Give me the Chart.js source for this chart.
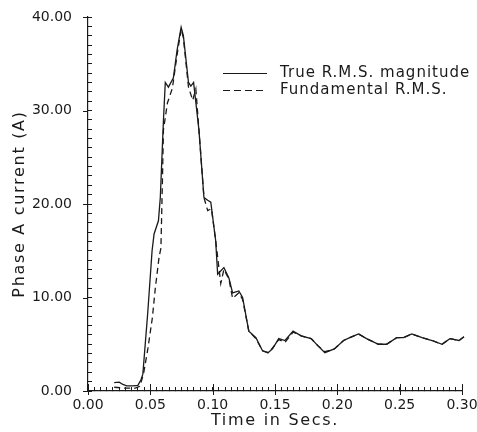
<!DOCTYPE html>
<html>
<head>
<meta charset="utf-8">
<script src="https://cdn.jsdelivr.net/npm/chart.js@4.4.1/dist/chart.umd.min.js"></script>
<style>
  html, body { margin: 0; padding: 0; background: #ffffff; }
  #wrap { width: 477px; height: 432px; position: relative; }
</style>
</head>
<body>
<div id="wrap"><canvas id="c" width="477" height="432"></canvas></div>
<script>
// ---- data ----
const timeTrue = [0.021, 0.025, 0.028, 0.031, 0.036, 0.040, 0.0425, 0.044, 0.048, 0.0514, 0.053, 0.0565, 0.058, 0.0605, 0.062, 0.0645, 0.0685, 0.0715, 0.0747, 0.0765, 0.0806, 0.0825, 0.0847, 0.089, 0.093, 0.096, 0.0985, 0.1024, 0.104, 0.109, 0.113, 0.116, 0.121, 0.124, 0.129, 0.1347, 0.140, 0.1444, 0.148, 0.153, 0.158, 0.1645, 0.171, 0.179, 0.1847, 0.190, 0.1976, 0.205, 0.210, 0.217, 0.2234, 0.233, 0.2395, 0.2476, 0.253, 0.2597, 0.268, 0.276, 0.284, 0.2903, 0.2976, 0.3016, 0.3056];
const trueRms  = [0.9, 0.95, 0.7, 0.55, 0.55, 0.6, 1.2, 1.8, 8.5, 15.0, 16.8, 18.2, 20.7, 28.9, 33.0, 32.5, 33.5, 36.5, 38.9, 38.0, 33.0, 32.6, 33.0, 27.9, 20.7, 20.4, 20.2, 16.1, 12.5, 13.2, 12.1, 10.5, 10.7, 10.0, 6.4, 5.7, 4.3, 4.1, 4.5, 5.6, 5.4, 6.4, 5.9, 5.6, 4.8, 4.1, 4.5, 5.4, 5.7, 6.1, 5.6, 5.0, 5.0, 5.7, 5.7, 6.1, 5.7, 5.4, 5.0, 5.6, 5.4, 5.8, 5.7];

const timeFund = [0.021, 0.030, 0.038, 0.0415, 0.0445, 0.048, 0.0516, 0.054, 0.057, 0.0585, 0.0597, 0.0605, 0.0637, 0.0677, 0.0715, 0.0747, 0.0765, 0.0806, 0.084, 0.0865, 0.089, 0.093, 0.096, 0.099, 0.1024, 0.1065, 0.109, 0.113, 0.116, 0.121, 0.124, 0.129, 0.1347, 0.140, 0.1444, 0.148, 0.153, 0.158, 0.1645, 0.171, 0.179, 0.1847, 0.190, 0.1976, 0.205, 0.210, 0.217, 0.2234, 0.233, 0.2395, 0.2476, 0.253, 0.2597, 0.268, 0.276, 0.284, 0.2903, 0.2976, 0.3016, 0.3056];
const fundRms  = [0.4, 0.3, 0.3, 0.5, 1.8, 4.5, 7.8, 11.0, 14.3, 15.3, 22.5, 27.9, 30.8, 32.4, 36.0, 38.7, 37.8, 32.5, 31.1, 32.3, 27.9, 20.7, 19.3, 19.5, 16.1, 11.5, 13.0, 12.0, 9.9, 10.5, 9.8, 6.4, 5.6, 4.3, 4.1, 4.6, 5.5, 5.2, 6.3, 5.9, 5.6, 4.8, 4.2, 4.5, 5.4, 5.7, 6.1, 5.6, 5.0, 5.0, 5.7, 5.7, 6.1, 5.7, 5.4, 5.0, 5.6, 5.4, 5.8, 5.7];

const seriesNames = ['True R.M.S. magnitude', 'Fundamental R.M.S.'];
const xMajorTicks = [0.00, 0.05, 0.10, 0.15, 0.20, 0.25, 0.30];
const yMajorTicks = [0, 10, 20, 30, 40];
const xTitle = 'Time in Secs.';
const yTitle = 'Phase A current (A)';

// ---- build chart ----
const toPoints = (xs, ys) => xs.map((x, i) => ({x: x, y: ys[i]}));
const isMajor = (v, list) => list.some(m => Math.abs(m - v) < 1e-9);
const INK = '#1a1a1a';
const FONT = "'DejaVu Sans', sans-serif";

const spacingPlugin = {
  id: 'spacing',
  beforeDraw(chart) { chart.ctx.letterSpacing = '1.7px'; },
  beforeDatasetsDraw(chart) { chart.ctx.letterSpacing = '0px'; },
  afterDraw(chart) {
    const ctx = chart.ctx;
    const xs = chart.scales.x, ys = chart.scales.y;
    ctx.save();
    ctx.strokeStyle = INK;
    ctx.lineWidth = 1;
    // outward parts of the major ticks
    yMajorTicks.forEach(v => {
      const p = Math.round(ys.getPixelForValue(v)) + 0.5;
      ctx.beginPath(); ctx.moveTo(xs.left - 5, p); ctx.lineTo(xs.left, p); ctx.stroke();
    });
    xMajorTicks.forEach(v => {
      const p = Math.round(xs.getPixelForValue(v)) + 0.5;
      ctx.beginPath(); ctx.moveTo(p, ys.bottom); ctx.lineTo(p, ys.bottom + 4); ctx.stroke();
      ctx.beginPath(); ctx.moveTo(p, ys.bottom); ctx.lineTo(p, ys.bottom - 7); ctx.stroke();
    });
    // legend
    const lx0 = 223, lx1 = 267, tx = 280;
    const rows = [{y: 73, dash: []}, {y: 90, dash: [7, 4]}];
    ctx.font = "15px " + FONT;
    ctx.fillStyle = INK;
    ctx.textBaseline = 'middle';
    ctx.textAlign = 'left';
    ctx.letterSpacing = '1px';
    rows.forEach((r, i) => {
      ctx.setLineDash(r.dash);
      ctx.lineWidth = 1.2;
      ctx.beginPath(); ctx.moveTo(lx0, r.y + 0.5); ctx.lineTo(lx1, r.y + 0.5); ctx.stroke();
      ctx.fillText(seriesNames[i], tx, r.y);
    });
    ctx.restore();
    ctx.letterSpacing = '0px';
  }
};

new Chart(document.getElementById('c'), {
  type: 'line',
  data: {
    datasets: [
      { label: seriesNames[1], data: toPoints(timeFund, fundRms), borderColor: INK, borderWidth: 1.3, borderDash: [6, 4], pointRadius: 0, tension: 0, fill: false, clip: false },
      { label: seriesNames[0], data: toPoints(timeTrue, trueRms), borderColor: INK, borderWidth: 1.3, pointRadius: 0, tension: 0, fill: false, clip: false }
    ]
  },
  options: {
    responsive: false,
    animation: false,
    devicePixelRatio: 1,
    layout: { padding: { left: 0, top: 17, right: 15, bottom: 0 } },
    plugins: { legend: { display: false }, tooltip: { enabled: false }, title: { display: false } },
    scales: {
      x: {
        type: 'linear', min: 0, max: 0.30,
        afterFit: s => { s.height = 41; s.paddingLeft = 0; s.paddingRight = 0; },
        afterBuildTicks: s => { s.ticks = []; for (let i = 0; i <= 60; i++) s.ticks.push({value: i * 0.005}); },
        grid: { drawOnChartArea: false, drawTicks: true, tickLength: -4, color: INK, tickColor: INK, lineWidth: 1 },
        border: { display: true, color: INK, width: 1.2 },
        ticks: { z: 1, autoSkip: false, maxRotation: 0, padding: 10, color: INK, font: { family: FONT, size: 14 },
                 callback: v => isMajor(v, xMajorTicks) ? v.toFixed(2) : '' },
        title: { display: true, text: xTitle, color: INK, font: { family: FONT, size: 16 }, padding: { top: 0, bottom: 2 } }
      },
      y: {
        type: 'linear', min: 0, max: 40,
        afterFit: s => { s.width = 88; s.paddingTop = 0; s.paddingBottom = 0; },
        afterBuildTicks: s => { s.ticks = []; for (let i = 0; i <= 40; i++) s.ticks.push({value: i}); },
        grid: { drawOnChartArea: false, drawTicks: true, tickLength: -4, color: INK, tickColor: INK, lineWidth: 1 },
        border: { display: true, color: INK, width: 1.2 },
        ticks: { z: 1, autoSkip: false, padding: 20, color: INK, font: { family: FONT, size: 14 },
                 callback: v => isMajor(v, yMajorTicks) ? v.toFixed(2) : '' },
        title: { display: true, text: yTitle, color: INK, font: { family: FONT, size: 16 }, padding: { top: 10, bottom: 0 } }
      }
    }
  },
  plugins: [spacingPlugin]
});
</script>
</body>
</html>
